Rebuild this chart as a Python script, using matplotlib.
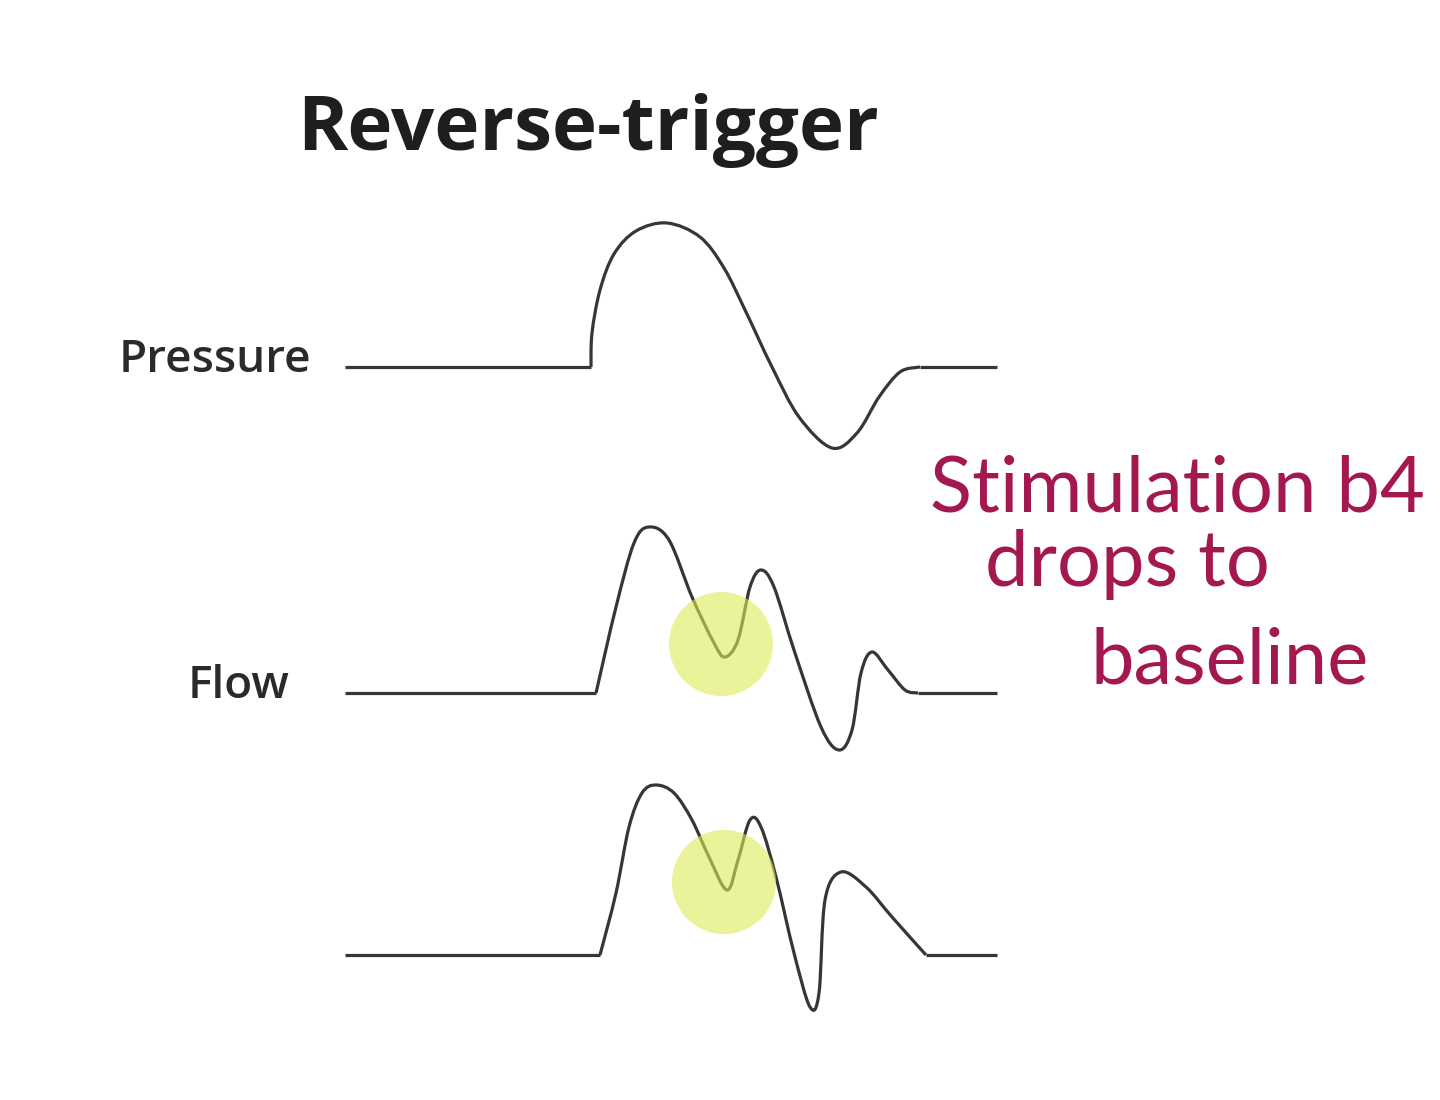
import numpy as np
import matplotlib
matplotlib.use("Agg")
import matplotlib.pyplot as plt
from matplotlib.path import Path
from matplotlib.patches import PathPatch, Ellipse

# canvas is laid out in picture pixels (x right, y down)
W, H = 1440, 1100

title = "Reverse-trigger"
trace_labels = ["Pressure", "Flow", ""]
label_right = [311, 290, 0]
baselines = [367, 693, 955]
trace_start_x = 345
trace_end_x = 997

# waveform points, one list per trace
pressure_x = [591, 592, 600, 614, 636, 667, 700, 724, 746, 772, 799, 832, 857, 879, 900, 920]
pressure_y = [367, 333, 290, 254, 231, 223, 237, 268, 312, 367, 417, 448, 433, 397, 372, 367]

flow_x = [596, 616, 634, 649, 669, 692, 714, 725, 738, 750, 761, 774, 794, 821, 839, 852, 861, 872, 888, 905, 918]
flow_y = [693, 607, 543, 527, 540, 597, 643, 657, 640, 587, 570, 587, 650, 727, 750, 730, 673, 652, 670, 690, 693]

flow2_x = [600, 616, 629, 642, 656, 674, 692, 709, 727, 738, 750, 761, 776, 794, 810, 819, 825, 841, 866, 892, 926]
flow2_y = [955, 893, 827, 793, 785, 793, 820, 857, 890, 860, 820, 827, 877, 953, 1007, 993, 900, 872, 887, 917, 955]

# highlighted spots (center x, center y, radius)
spot_x = [721, 724]
spot_y = [644, 882]
spot_r = [52, 52]

note_lines = ["Stimulation b4", "drops to", "baseline"]
note_x = [930, 985, 1090]
note_y = [512, 586, 684]

line_color = "#363636"
note_color = "#a3184f"
spot_color = "#dcec55"


def smooth_path(xs, ys):
    # Catmull-Rom through the points, written as cubic bezier segments
    pts = np.column_stack([xs, ys]).astype(float)
    verts = [pts[0]]
    codes = [Path.MOVETO]
    n = len(pts)
    for i in range(n - 1):
        p0 = pts[i - 1] if i > 0 else pts[i]
        p1 = pts[i]
        p2 = pts[i + 1]
        p3 = pts[i + 2] if i + 2 < n else pts[i + 1]
        verts += [p1 + (p2 - p0) / 6, p2 - (p3 - p1) / 6, p2]
        codes += [Path.CURVE4] * 3
    return Path(verts, codes)


fig = plt.figure(figsize=(W / 100, H / 100), dpi=100)
ax = fig.add_axes([0, 0, 1, 1])
ax.set_xlim(0, W)
ax.set_ylim(H, 0)
ax.axis("off")

waves = [(pressure_x, pressure_y), (flow_x, flow_y), (flow2_x, flow2_y)]
for (wx, wy), base in zip(waves, baselines):
    ax.plot([trace_start_x, wx[0]], [base, base], color=line_color, lw=2.3,
            solid_capstyle="butt", zorder=2)
    ax.plot([wx[-1], trace_end_x], [base, base], color=line_color, lw=2.3,
            solid_capstyle="butt", zorder=2)
    ax.add_patch(PathPatch(smooth_path(wx, wy), facecolor="none",
                           edgecolor=line_color, lw=2.3, zorder=2))

for cx, cy, r in zip(spot_x, spot_y, spot_r):
    ax.add_patch(Ellipse((cx, cy), 2 * r, 2 * r, facecolor=spot_color,
                         edgecolor="none", alpha=0.6, zorder=3))

ax.text(588, 150, title, ha="center", va="baseline", fontsize=55,
        fontweight="bold", family="Open Sans", color="#1e1e1e")

for lab, xr, base in zip(trace_labels, label_right, baselines):
    if lab:
        ax.text(xr, base + 5, lab, ha="right", va="baseline", fontsize=33,
                fontweight="semibold", family="Open Sans", color="#2a2a2a")

for txt, tx, ty in zip(note_lines, note_x, note_y):
    ax.text(tx, ty, txt, ha="left", va="baseline", fontsize=56,
            family="Lato", color=note_color)

fig.savefig("out.png", dpi=100, facecolor="white")
